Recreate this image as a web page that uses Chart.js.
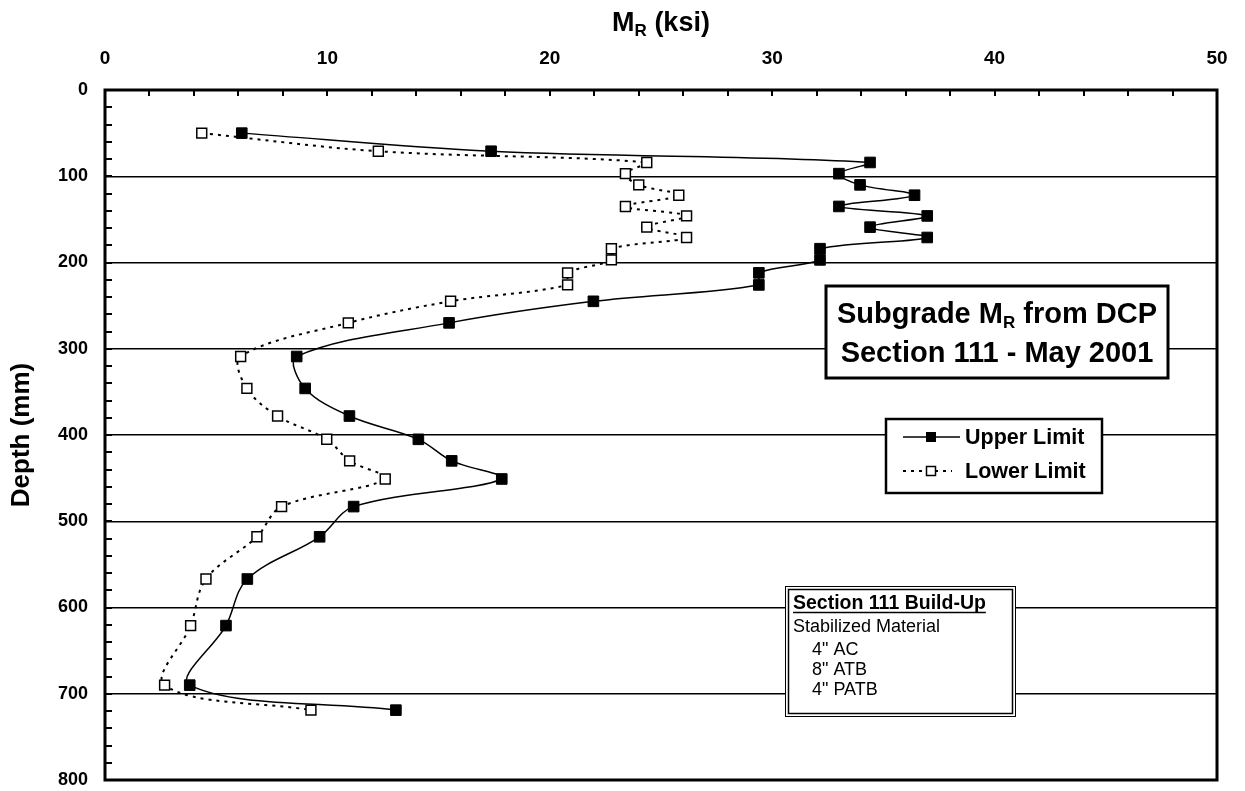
<!DOCTYPE html>
<html><head><meta charset="utf-8">
<script src="https://cdn.jsdelivr.net/npm/chart.js@4.4.1/dist/chart.umd.min.js"></script>
<style>html,body{margin:0;padding:0;background:#fff;overflow:hidden}canvas{display:block}</style>
</head><body>
<canvas id="c" width="1245" height="791"></canvas>
<script>
// ---- data ----
const depthMm = [50, 71, 84, 97, 110, 122, 135, 146, 159, 171, 184, 197, 212, 226, 245, 270, 309, 346, 378, 405, 430, 451, 483, 518, 567, 621, 690, 719];
const upperLimit = [6.15, 17.36, 34.4, 33.0, 33.95, 36.4, 33.0, 36.97, 34.4, 36.97, 32.15, 32.15, 29.4, 29.4, 21.96, 15.47, 8.62, 9.0, 10.99, 14.09, 15.59, 17.84, 11.18, 9.65, 6.4, 5.44, 3.81, 13.08];
const lowerLimit = [4.35, 12.29, 24.36, 23.4, 24.0, 25.8, 23.4, 26.15, 24.36, 26.15, 22.77, 22.77, 20.8, 20.8, 15.54, 10.94, 6.1, 6.38, 7.76, 9.97, 11.0, 12.6, 7.94, 6.83, 4.54, 3.85, 2.68, 9.26];
const seriesNames = ['Upper Limit', 'Lower Limit'];
const xTickValues = [0, 10, 20, 30, 40, 50];
const yTickValues = [0, 100, 200, 300, 400, 500, 600, 700, 800];
const xTitle = ['M', 'R', ' (ksi)'];
const yTitle = 'Depth (mm)';
const boxTitle = [['Subgrade M', 'R', ' from DCP'], 'Section 111 - May 2001'];
const buildUp = ['Section 111 Build-Up', 'Stabilized Material', '4" AC', '8" ATB', '4" PATB'];

const FONT = "'Liberation Sans', Arial, sans-serif";

function pts(xs) { return xs.map((x, i) => ({ x: x, y: depthMm[i] })); }

function drawSub(ctx, parts, x, y, big, small, drop) {
  ctx.font = 'bold ' + big + 'px ' + FONT;
  const w0 = ctx.measureText(parts[0]).width;
  const w2 = ctx.measureText(parts[2]).width;
  ctx.font = 'bold ' + small + 'px ' + FONT;
  const w1 = ctx.measureText(parts[1]).width;
  const total = w0 + w1 + w2;
  const sx = x - total / 2;
  ctx.textAlign = 'left';
  ctx.textBaseline = 'alphabetic';
  ctx.font = 'bold ' + big + 'px ' + FONT;
  ctx.fillText(parts[0], sx, y);
  ctx.font = 'bold ' + small + 'px ' + FONT;
  ctx.fillText(parts[1], sx + w0, y + drop);
  ctx.font = 'bold ' + big + 'px ' + FONT;
  ctx.fillText(parts[2], sx + w0 + w1, y);
}

const decor = {
  id: 'decor',
  afterDraw(chart) {
    const ctx = chart.ctx;
    const ca = chart.chartArea;
    const xs = chart.scales.x, ys = chart.scales.y;
    ctx.save();
    // frame
    ctx.strokeStyle = '#000';
    ctx.lineWidth = 3;
    ctx.strokeRect(ca.left, ca.top, ca.right - ca.left, ca.bottom - ca.top);
    // minor ticks
    ctx.lineWidth = 2;
    ctx.beginPath();
    for (let v = 0; v <= 50; v += 2) {
      const px = Math.round(xs.getPixelForValue(v));
      ctx.moveTo(px, ca.top); ctx.lineTo(px, ca.top + 6);
    }
    for (let v = 0; v <= 800; v += 20) {
      const py = Math.round(ys.getPixelForValue(v));
      ctx.moveTo(ca.left, py); ctx.lineTo(ca.left + 7, py);
    }
    ctx.stroke();

    ctx.fillStyle = '#000';
    // axis title top: M_R (ksi)
    drawSub(ctx, xTitle, (ca.left + ca.right) / 2, 31, 27, 17, 5);

    // y title
    ctx.save();
    ctx.translate(22, (ca.top + ca.bottom) / 2);
    ctx.rotate(-Math.PI / 2);
    ctx.font = 'bold 26px ' + FONT;
    ctx.textAlign = 'center';
    ctx.textBaseline = 'middle';
    ctx.fillText(yTitle, 0, 0);
    ctx.restore();

    // Subgrade box
    ctx.fillStyle = '#fff';
    ctx.fillRect(826, 286, 342, 92);
    ctx.lineWidth = 3;
    ctx.strokeStyle = '#000';
    ctx.strokeRect(826, 286, 342, 92);
    ctx.fillStyle = '#000';
    drawSub(ctx, boxTitle[0], 997, 323, 29, 17, 5);
    ctx.font = 'bold 29px ' + FONT;
    ctx.textAlign = 'center';
    ctx.fillText(boxTitle[1], 997, 362);

    // Legend box
    ctx.fillStyle = '#fff';
    ctx.fillRect(886, 419, 216, 74);
    ctx.lineWidth = 2.5;
    ctx.strokeRect(886, 419, 216, 74);
    const dsets = chart.data.datasets;
    const rows = [437, 471];
    const base = [444, 478];
    dsets.forEach((ds, i) => {
      const y = rows[i];
      ctx.save();
      ctx.strokeStyle = '#000';
      ctx.lineWidth = ds.borderWidth;
      ctx.setLineDash(ds.borderDash || []);
      ctx.beginPath(); ctx.moveTo(903, y); ctx.lineTo(i === 0 ? 960 : 952, y); ctx.stroke();
      ctx.setLineDash([]);
      ctx.fillStyle = ds.pointBackgroundColor;
      ctx.lineWidth = ds.pointBorderWidth;
      ctx.fillRect(926.5, y - 4.5, 9, 9);
      ctx.strokeRect(926.5, y - 4.5, 9, 9);
      ctx.restore();
      ctx.fillStyle = '#000';
      ctx.font = 'bold 21.5px ' + FONT;
      ctx.textAlign = 'left';
      ctx.textBaseline = 'alphabetic';
      ctx.fillText(ds.label, 965, base[i]);
    });

    // Build-up box (double border)
    ctx.fillStyle = '#fff';
    ctx.fillRect(785, 586, 231, 131);
    ctx.lineWidth = 1;
    ctx.strokeRect(785.5, 586.5, 230, 130);
    ctx.lineWidth = 1.5;
    ctx.strokeRect(788.5, 589.5, 224, 124);
    ctx.fillStyle = '#000';
    ctx.textAlign = 'left';
    ctx.textBaseline = 'alphabetic';
    ctx.font = 'bold 19.5px ' + FONT;
    ctx.fillText(buildUp[0], 793, 609);
    const w = ctx.measureText(buildUp[0]).width;
    ctx.lineWidth = 1.5;
    ctx.beginPath(); ctx.moveTo(793, 612.5); ctx.lineTo(793 + w, 612.5); ctx.stroke();
    ctx.font = '18px ' + FONT;
    ctx.fillText(buildUp[1], 793, 632);
    ctx.fillText(buildUp[2], 812, 655);
    ctx.fillText(buildUp[3], 812, 675);
    ctx.fillText(buildUp[4], 812, 695);
    ctx.restore();
  }
};

new Chart(document.getElementById('c'), {
  type: 'scatter',
  data: {
    datasets: [
      {
        label: seriesNames[0],
        data: pts(upperLimit),
        showLine: true,
        borderColor: '#000',
        borderWidth: 1.5,
        tension: 0.35,
        pointStyle: 'rect',
        pointRadius: 7.5,
        pointHoverRadius: 7.5,
        pointBackgroundColor: '#000',
        pointBorderColor: '#000',
        pointBorderWidth: 1
      },
      {
        label: seriesNames[1],
        data: pts(lowerLimit),
        showLine: true,
        borderColor: '#000',
        borderWidth: 2,
        borderDash: [3, 5],
        tension: 0.35,
        pointStyle: 'rect',
        pointRadius: 7,
        pointHoverRadius: 7,
        pointBackgroundColor: '#fff',
        pointBorderColor: '#000',
        pointBorderWidth: 1.5
      }
    ]
  },
  options: {
    responsive: false,
    animation: false,
    devicePixelRatio: 1,
    layout: { padding: { left: 0, top: 0, right: 28, bottom: 11 } },
    plugins: { legend: { display: false }, tooltip: { enabled: false } },
    elements: { line: { capBezierPoints: false } },
    scales: {
      x: {
        type: 'linear', position: 'top', min: 0, max: 50,
        afterBuildTicks: s => { s.ticks = xTickValues.map(v => ({ value: v })); },
        afterFit: s => { s.height = 90; s.paddingLeft = 0; s.paddingRight = 0; },
        grid: { display: false, drawTicks: false },
        border: { display: false },
        ticks: { color: '#000', padding: 20, font: { family: FONT, size: 19, weight: 'bold' } }
      },
      y: {
        type: 'linear', position: 'left', min: 0, max: 800, reverse: true,
        afterBuildTicks: s => { s.ticks = yTickValues.map(v => ({ value: v })); },
        afterFit: s => { s.width = 105; s.paddingTop = 0; s.paddingBottom = 0; },
        grid: { color: '#000', lineWidth: 1.5, drawTicks: false },
        border: { display: false },
        ticks: { color: '#000', padding: 17, font: { family: FONT, size: 18, weight: 'bold' } }
      }
    }
  },
  plugins: [decor]
});
</script>
</body></html>
